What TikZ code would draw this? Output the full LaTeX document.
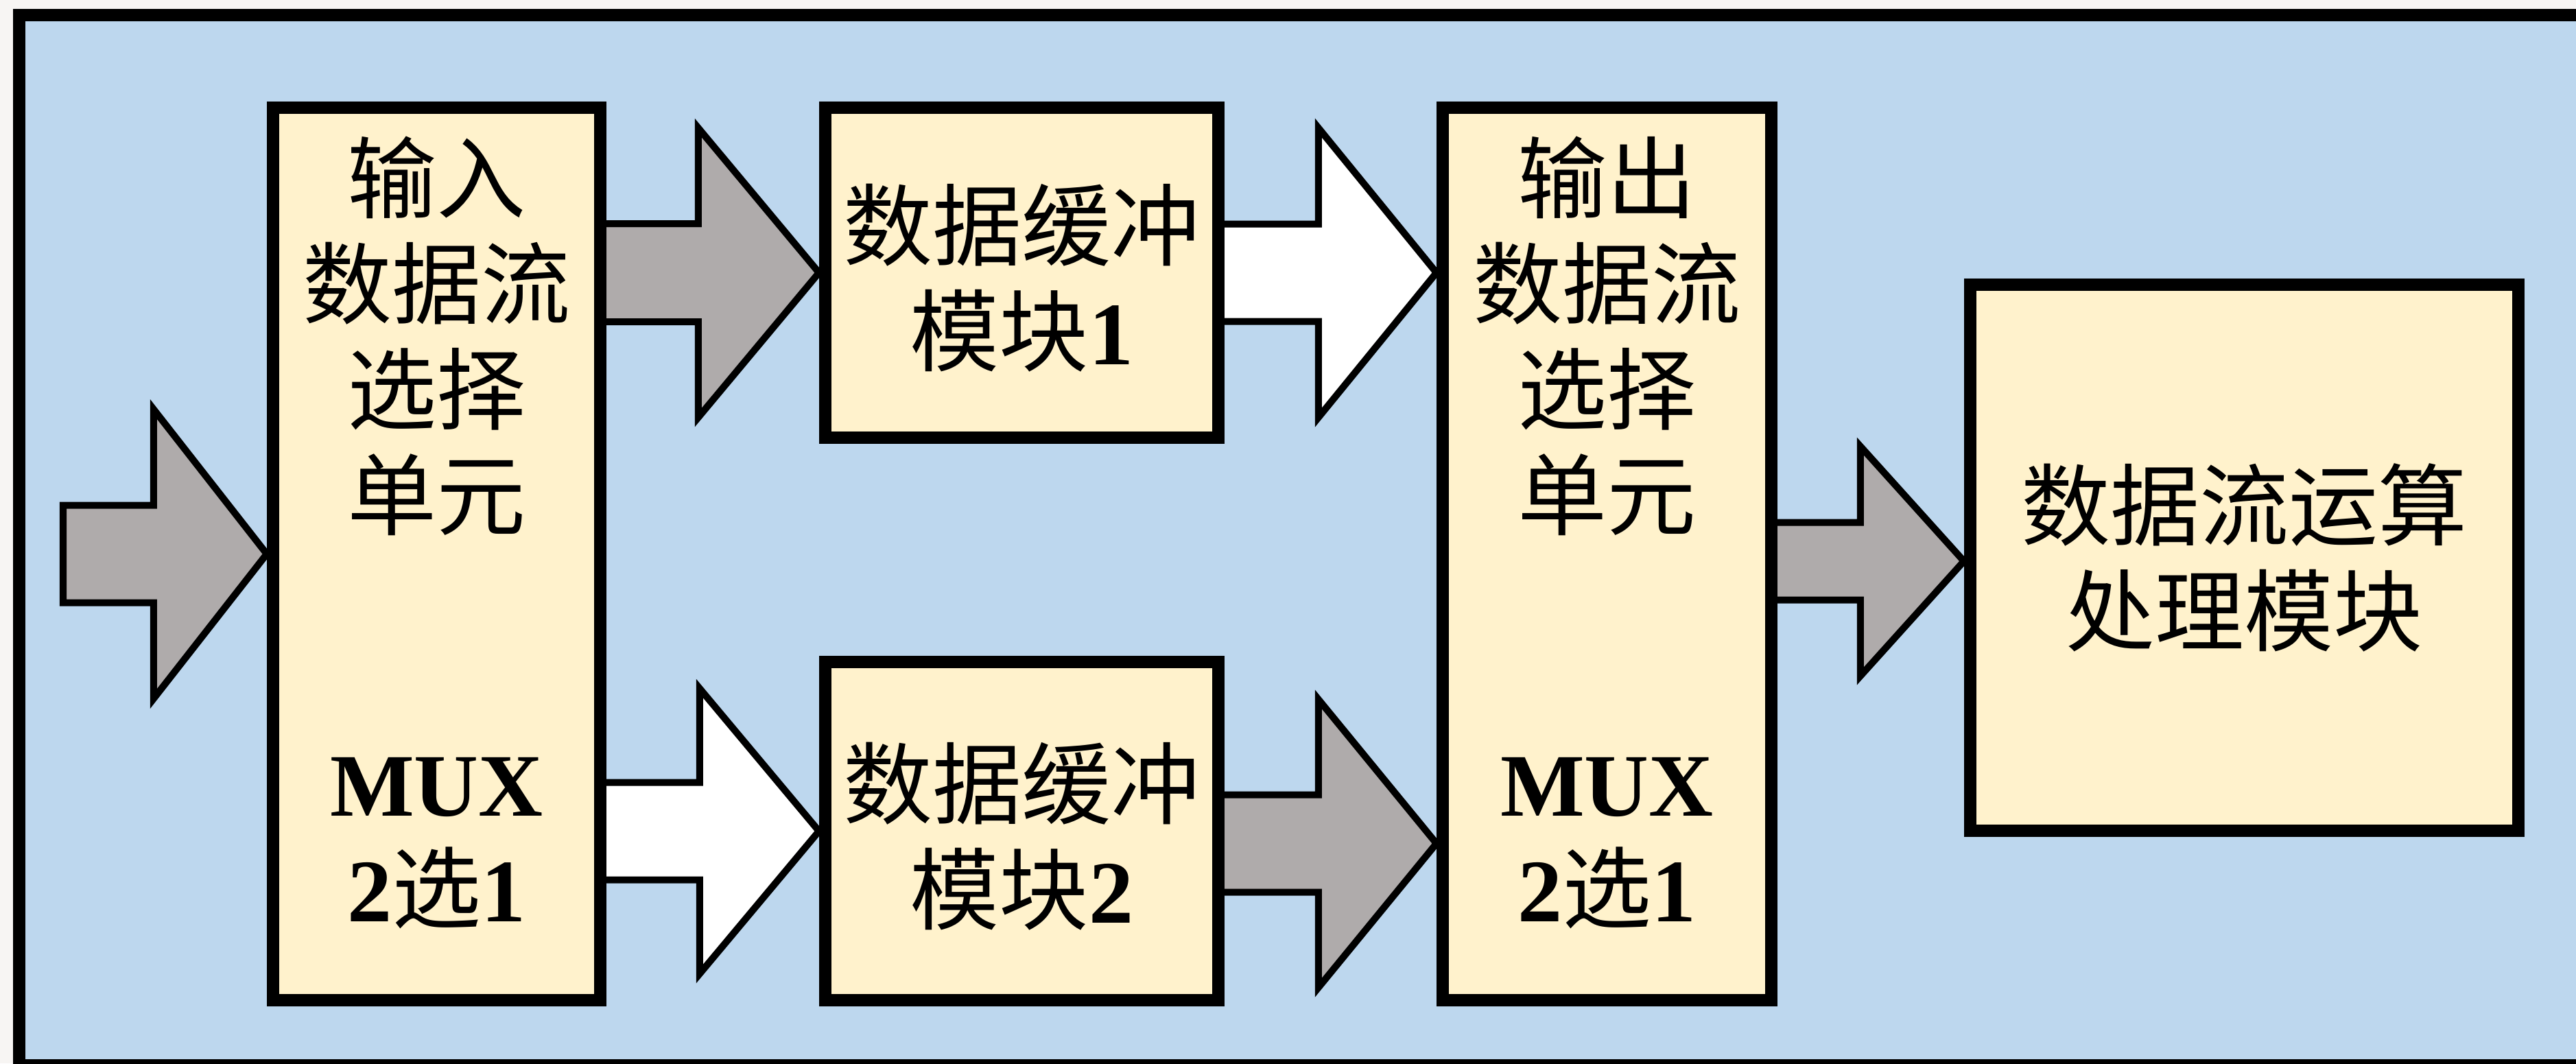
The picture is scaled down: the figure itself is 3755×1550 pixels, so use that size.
\documentclass[tikz,border=0pt]{standalone}
\usepackage{fontspec}
\setmainfont{Liberation Serif}
\newfontfamily\cjk{Noto Sans CJK SC}
\usetikzlibrary{calc}
\definecolor{pagebg}{HTML}{F7F5F3}
\definecolor{panel}{HTML}{BDD7EE}
\definecolor{boxfill}{HTML}{FFF2CC}
\definecolor{arrgray}{HTML}{AFABAB}
\pgfdeclarelayer{bg}
\pgfdeclarelayer{arr}
\pgfsetlayers{bg,arr,main}
\newcommand\lat[1]{{\rmfamily\bfseries #1}}
% #1 style, #2 tail, #3 tip, #4 shaft half, #5 head half, #6 head length
\newcommand\blockarrow[6]{%
  \draw[#1] ($(#2 |- #3)+(0,-#4)$) -- ($(#3)+(-#6,-#4)$) -- ($(#3)+(-#6,-#5)$)
    -- (#3) -- ($(#3)+(-#6,#5)$) -- ($(#3)+(-#6,#4)$) -- ($(#2 |- #3)+(0,#4)$) -- cycle;}
\begin{document}
\begin{tikzpicture}[x=0.01cm,y=-0.01cm,
  blk/.style={rectangle,draw=black,fill=boxfill,line width=0.18cm,inner sep=0pt,outer sep=0.09cm},
  txt/.style={font=\fontsize{37}{43.8}\selectfont\cjk,align=center,inner sep=0pt},
  grayarrow/.style={draw=black,fill=arrgray,line width=0.1cm,line join=miter},
  whitearrow/.style={draw=black,fill=white,line width=0.1cm,line join=miter}]
\useasboundingbox (0,0) rectangle (3755,1550);
\begin{pgfonlayer}{bg}
  \fill[pagebg] (0,0) rectangle (3755,1550);
  \draw[line width=0.18cm,fill=panel] (28,22) rectangle (3800,1553);
\end{pgfonlayer}

\node[blk,minimum width=4.77cm,minimum height=13.01cm] (A) at (636.5,807.5) {};
\node[blk,minimum width=5.73cm,minimum height=4.81cm] (B1) at (1489.5,397.5) {};
\node[blk,minimum width=5.73cm,minimum height=4.93cm] (B2) at (1489.5,1211.5) {};
\node[blk,minimum width=4.79cm,minimum height=13.01cm] (C) at (2342.5,807.5) {};
\node[blk,minimum width=7.99cm,minimum height=7.96cm] (D) at (3271.5,813) {};

\node[txt] (Atop) at (636.5,490) {输入\\数据流\\选择\\单元};
\node[txt] (Amux) at (636.5,1229) {\lat{MUX}\\\lat{2}选\lat{1}};
\node[txt] (Ctop) at (2342.5,490) {输出\\数据流\\选择\\单元};
\node[txt] (Cmux) at (2342.5,1229) {\lat{MUX}\\\lat{2}选\lat{1}};
\node[txt] (B1t) at (1489.5,405) {数据缓冲\\模块\lat{1}};
\node[txt] (B2t) at (1489.5,1219) {数据缓冲\\模块\lat{2}};
\node[txt] (Dt) at (3271.5,813) {数据流运算\\处理模块};

\coordinate (in0) at (92,809);
\coordinate (tipB2C) at ($(C.west |- B2.east)+(0,18)$);
\coordinate (tipCD) at ($(D.west)+(0,5)$);
\coordinate (tipB1C) at (C.west |- B1.east);

\begin{pgfonlayer}{arr}
  \blockarrow{grayarrow}{in0}{A.west}{71}{211}{165}
  \blockarrow{grayarrow}{A.center}{B1.west}{71.5}{211}{176}
  \blockarrow{whitearrow}{A.center}{B2.west}{71}{208}{174}
  \blockarrow{whitearrow}{B1.center}{tipB1C}{71}{211}{172}
  \blockarrow{grayarrow}{B2.center}{tipB2C}{71}{210}{172}
  \blockarrow{grayarrow}{C.center}{tipCD}{56.5}{167.5}{151}
\end{pgfonlayer}
\end{tikzpicture}
\end{document}
